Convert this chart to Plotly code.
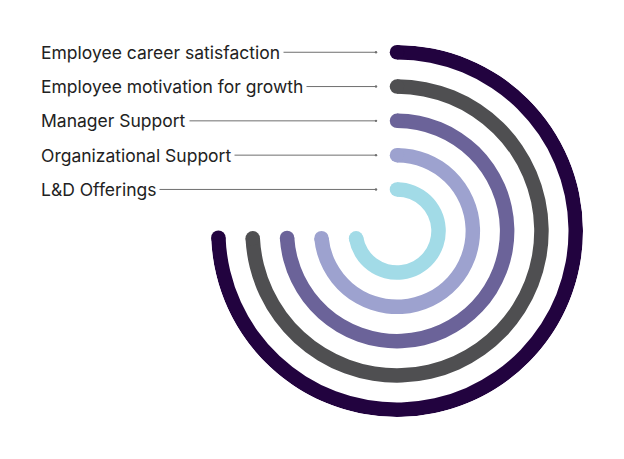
import plotly.graph_objects as go

# rings from outside to inside
categories = ['Employee career satisfaction', 'Employee motivation for growth',
              'Manager Support', 'Organizational Support', 'L&D Offerings']
# share of a full circle covered by each arc (%)
values = [74.4, 74.2, 74.0, 73.5, 72.2]
colors = ['#22033f', '#4f4f51', '#6b6399', '#9da2cf', '#a2dbe7']

# page has an 8px body margin, so the figure is drawn 8px in
OFF = 8
W, H = 624 - 2 * OFF, 459 - 2 * OFF
cx, cy = 397 - OFF, 231 - OFF   # centre of the rings, px
R = 186                          # outer radius, px
thick = 14.5
step = 34.3
label_x = 37 - OFF
tip_x = 376 - OFF

fig = go.Figure()

for i, (cat, v, col) in enumerate(zip(categories, values, colors)):
    outer = R - i * step
    mid = outer - thick / 2
    sweep = v * 3.6
    fig.add_trace(go.Barpolar(
        r=[thick], base=[outer - thick], theta=[sweep / 2], width=[sweep],
        marker=dict(color=col, line=dict(width=0)),
        name=cat, hoverinfo='name'))
    # round ends
    fig.add_trace(go.Scatterpolar(
        r=[mid, mid], theta=[0, sweep], mode='markers',
        marker=dict(color=col, size=thick, line=dict(width=0)),
        hoverinfo='skip', showlegend=False))
    # label with leader line
    y_px = cy - mid
    fig.add_annotation(
        x=tip_x / W, y=(H - y_px) / H, xref='paper', yref='paper',
        text=cat, showarrow=True, ax=label_x - tip_x, ay=0,
        xanchor='left', yanchor='middle', borderpad=3,
        arrowhead=6, arrowsize=0.6, arrowwidth=1, arrowcolor='#6f6f6f',
        font=dict(family='Inter', size=17.5, color='#222222'))

fig.update_layout(
    width=W, height=H,
    margin=dict(l=0, r=0, t=0, b=0),
    paper_bgcolor='white',
    showlegend=False,
    polar=dict(
        domain=dict(x=[(cx - R) / W, (cx + R) / W],
                    y=[(H - cy - R) / H, (H - cy + R) / H]),
        bgcolor='white',
        hole=0,
        radialaxis=dict(range=[0, R], visible=False, showgrid=False,
                        showline=False, showticklabels=False, ticks=''),
        angularaxis=dict(rotation=90, direction='clockwise', visible=False,
                         showgrid=False, showline=False,
                         showticklabels=False, ticks=''),
    ),
)

fig.write_html('out.html')
